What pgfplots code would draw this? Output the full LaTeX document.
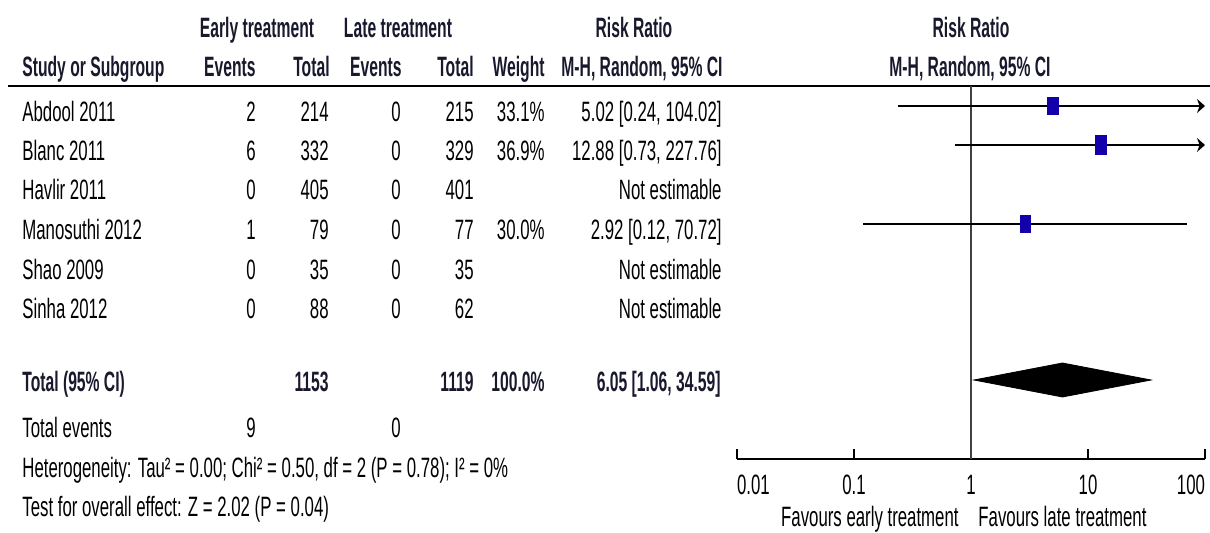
\documentclass[border=0pt]{standalone}
\usepackage{pgfplots}
\pgfplotsset{compat=1.18}
\usepackage{fontspec}
\setmainfont{Liberation Sans}[FakeStretch=0.6,BoldFeatures={FakeStretch=0.56}]
\usetikzlibrary{arrows.meta}
\definecolor{sqblue}{RGB}{20,0,170}
\definecolor{hdr}{RGB}{25,25,45}
\begin{document}
\begin{tikzpicture}[x=0.5pt,y=-0.5pt,
  t/.style={inner sep=0pt,font=\fontsize{14}{16}\selectfont},
  h/.style={inner sep=0pt,font=\fontsize{14}{16}\selectfont\bfseries,text=hdr}]
\useasboundingbox (0,0) rectangle (1210,533);
% headers
\node[h,anchor=base] at (257,38) {Early treatment};
\node[h,anchor=base] at (398,38) {Late treatment};
\node[h,anchor=base] at (634,38) {Risk Ratio};
\node[h,anchor=base] at (971,38) {Risk Ratio};
\node[h,anchor=base west] at (22,77) {Study or Subgroup};
\node[h,anchor=base east] at (256,77) {Events};
\node[h,anchor=base east] at (330,77) {Total};
\node[h,anchor=base east] at (402,77) {Events};
\node[h,anchor=base east] at (474,77) {Total};
\node[h,anchor=base east] at (545,77) {Weight};
\node[h,anchor=base east] at (723,77) {M-H, Random, 95\% CI};
\node[h,anchor=base] at (970,77) {M-H, Random, 95\% CI};
\draw[line width=1.1pt] (8,86) -- (1210,86);
% study rows
\foreach \y/\nm/\ee/\et/\le/\lt/\w/\rr in {
  122/Abdool 2011/2/214/0/215/33.1\%/{5.02 [0.24, 104.02]},
  161/Blanc 2011/6/332/0/329/36.9\%/{12.88 [0.73, 227.76]},
  200/Havlir 2011/0/405/0/401//Not estimable,
  240/Manosuthi 2012/1/79/0/77/30.0\%/{2.92 [0.12, 70.72]},
  280/Shao 2009/0/35/0/35//Not estimable,
  319/Sinha 2012/0/88/0/62//Not estimable}{
  \node[t,anchor=base west] at (22,\y) {\nm};
  \node[t,anchor=base east] at (256,\y) {\ee};
  \node[t,anchor=base east] at (329,\y) {\et};
  \node[t,anchor=base east] at (401,\y) {\le};
  \node[t,anchor=base east] at (474,\y) {\lt};
  \node[t,anchor=base east] at (545,\y) {\w};
  \node[t,anchor=base east] at (722,\y) {\rr};
}
% total row
\node[h,anchor=base west] at (22,392) {Total (95\% CI)};
\node[h,anchor=base east] at (329,392) {1153};
\node[h,anchor=base east] at (474,392) {1119};
\node[h,anchor=base east] at (545,392) {100.0\%};
\node[h,anchor=base east] at (721,392) {6.05 [1.06, 34.59]};
\node[t,anchor=base west] at (22,438) {Total events};
\node[t,anchor=base east] at (256,438) {9};
\node[t,anchor=base east] at (401,438) {0};
\node[t,anchor=base west] at (22,478) {Heterogeneity: Tau² = 0.00; Chi² = 0.50, df = 2 (P = 0.78); I² = 0\%};
\node[t,anchor=base west] at (22,517) {Test for overall effect: Z = 2.02 (P = 0.04)};
\node[t,anchor=base east] at (959,527) {Favours early treatment};
\node[t,anchor=base west] at (978,527) {Favours late treatment};
% forest plot
\begin{axis}[at={(368.5pt,-229.5pt)},anchor=south west,scale only axis,
  width=234pt,height=186.5pt,
  xmode=log,xmin=0.01,xmax=100,ymin=74,ymax=447,
  axis x line*=bottom,axis y line=none,
  x axis line style={line width=1pt,-},
  xtick={0.01,0.1,1,10,100},
  xticklabels={\rlap{0.01},0.1,1,10,\llap{100}},
  xminorticks=false,
  tick align=inside,major tick length=5pt,
  tick style={line width=0.9pt,black},
  xticklabel style={anchor=base,yshift=-18pt,inner sep=0pt,font=\fontsize{14}{16}\selectfont},
  clip=false]
\addplot[line width=0.75pt,color=black!75] coordinates {(1,74) (1,447)};
% confidence intervals (clipped at the axis end with an arrow)
\addplot[line width=1.2pt,-{Stealth[length=4pt,width=7pt]}] coordinates {(0.24,427) (100,427)};
\addplot[line width=1.2pt,-{Stealth[length=4pt,width=7pt]}] coordinates {(0.73,388) (100,388)};
\addplot[line width=1.2pt] coordinates {(0.12,309) (70.72,309)};
% point estimates
\addplot[only marks,mark=square*,mark size=2.6pt,mark options={yscale=1.7,fill=sqblue,draw=sqblue}] coordinates {(5.02,427)};
\addplot[only marks,mark=square*,mark size=2.9pt,mark options={yscale=1.7,fill=sqblue,draw=sqblue}] coordinates {(12.88,388)};
\addplot[only marks,mark=square*,mark size=2.3pt,mark options={yscale=1.9,fill=sqblue,draw=sqblue}] coordinates {(2.92,309)};
% pooled estimate
\addplot[fill=black,draw=black] coordinates {(1.06,153) (6.05,170) (34.59,153) (6.05,136)} -- cycle;
\end{axis}
\end{tikzpicture}
\end{document}
